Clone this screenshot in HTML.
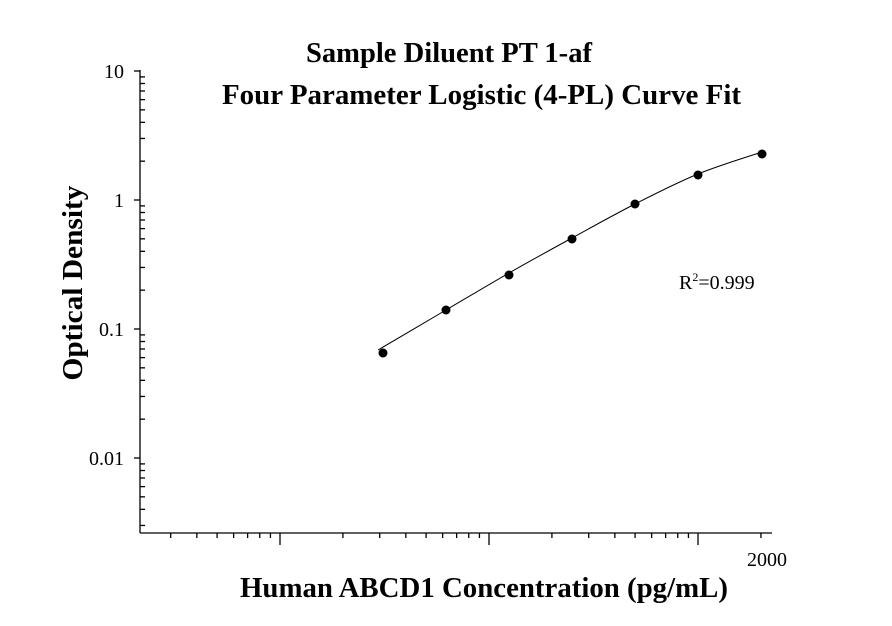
<!DOCTYPE html>
<html><head><style>
html,body{margin:0;padding:0;background:#fff;}
svg{display:block;font-family:"Liberation Serif",serif;}
</style></head><body>
<svg id="s" width="892" height="626" viewBox="0 0 892 626" xmlns="http://www.w3.org/2000/svg">
<text x="306" y="62" font-size="28" font-weight="bold" textLength="286" lengthAdjust="spacingAndGlyphs">Sample Diluent PT 1-af</text>
<text x="222" y="104" font-size="28" font-weight="bold" textLength="519" lengthAdjust="spacingAndGlyphs">Four Parameter Logistic (4-PL) Curve Fit</text>
<text transform="translate(82,283) rotate(-90)" font-size="29" font-weight="bold" text-anchor="middle" textLength="195" lengthAdjust="spacingAndGlyphs">Optical Density</text>
<text x="484" y="597" font-size="29" font-weight="bold" text-anchor="middle" textLength="488" lengthAdjust="spacingAndGlyphs">Human ABCD1 Concentration (pg/mL)</text>
<g font-size="20" text-anchor="end">
<text x="124" y="78">10</text>
<text x="124" y="207">1</text>
<text x="124" y="336">0.1</text>
<text x="124" y="465">0.01</text>
</g>
<text x="767" y="566" font-size="20" text-anchor="middle">2000</text>
<text x="679" y="289" font-size="20">R<tspan font-size="12" dy="-8">2</tspan><tspan dy="8">=0.999</tspan></text>
<g id="ax" stroke="#000" stroke-width="1.3" fill="none"></g>
<path id="fit" stroke="#000" stroke-width="1" fill="none"/>
<g id="pts" fill="#000"></g>
</svg>
<script>
var ax=document.getElementById('ax'),ns='http://www.w3.org/2000/svg';
function L(x1,y1,x2,y2){var l=document.createElementNS(ns,'line');l.setAttribute('x1',x1);l.setAttribute('y1',y1);l.setAttribute('x2',x2);l.setAttribute('y2',y2);ax.appendChild(l);}
var Y0=533,X0=140;
L(X0,70,X0,Y0);L(X0,Y0,772,Y0);
for(var d=0;d<4;d++){var yb=71+129*d;L(X0-6,yb,X0,yb);
 for(var k=2;k<=9;k++){var y=yb+129*(1-Math.log10(k));if(y<Y0)L(X0,y,X0+5,y);}}
var xm=[280,489,698],D=209;
xm.forEach(function(x){L(x,Y0,x,Y0+12);});
for(var d=-1;d<3;d++){var xb=280+D*d;for(var k=2;k<=9;k++){var x=xb+D*Math.log10(k);if(x>X0+5&&x<772)L(x,Y0,x,Y0+5);}}
var P=[[383,353],[446,310],[509,275],[572,239],[635,204],[698,175],[762,154]];
var g=document.getElementById('pts');
P.forEach(function(p){var c=document.createElementNS(ns,'circle');c.setAttribute('cx',p[0]);c.setAttribute('cy',p[1]);c.setAttribute('r',4.5);g.appendChild(c);});
var C=[[378,350],[446,310],[509,273],[572,238],[635,204],[698,174],[762,152]];
var d='M'+C[0][0]+','+C[0][1];
for(var i=0;i<C.length-1;i++){var p0=C[Math.max(i-1,0)],p1=C[i],p2=C[i+1],p3=C[Math.min(i+2,C.length-1)];
 d+=' C'+(p1[0]+(p2[0]-p0[0])/6)+','+(p1[1]+(p2[1]-p0[1])/6)+' '+(p2[0]-(p3[0]-p1[0])/6)+','+(p2[1]-(p3[1]-p1[1])/6)+' '+p2[0]+','+p2[1];}
document.getElementById('fit').setAttribute('d',d);
</script>
</body></html>
